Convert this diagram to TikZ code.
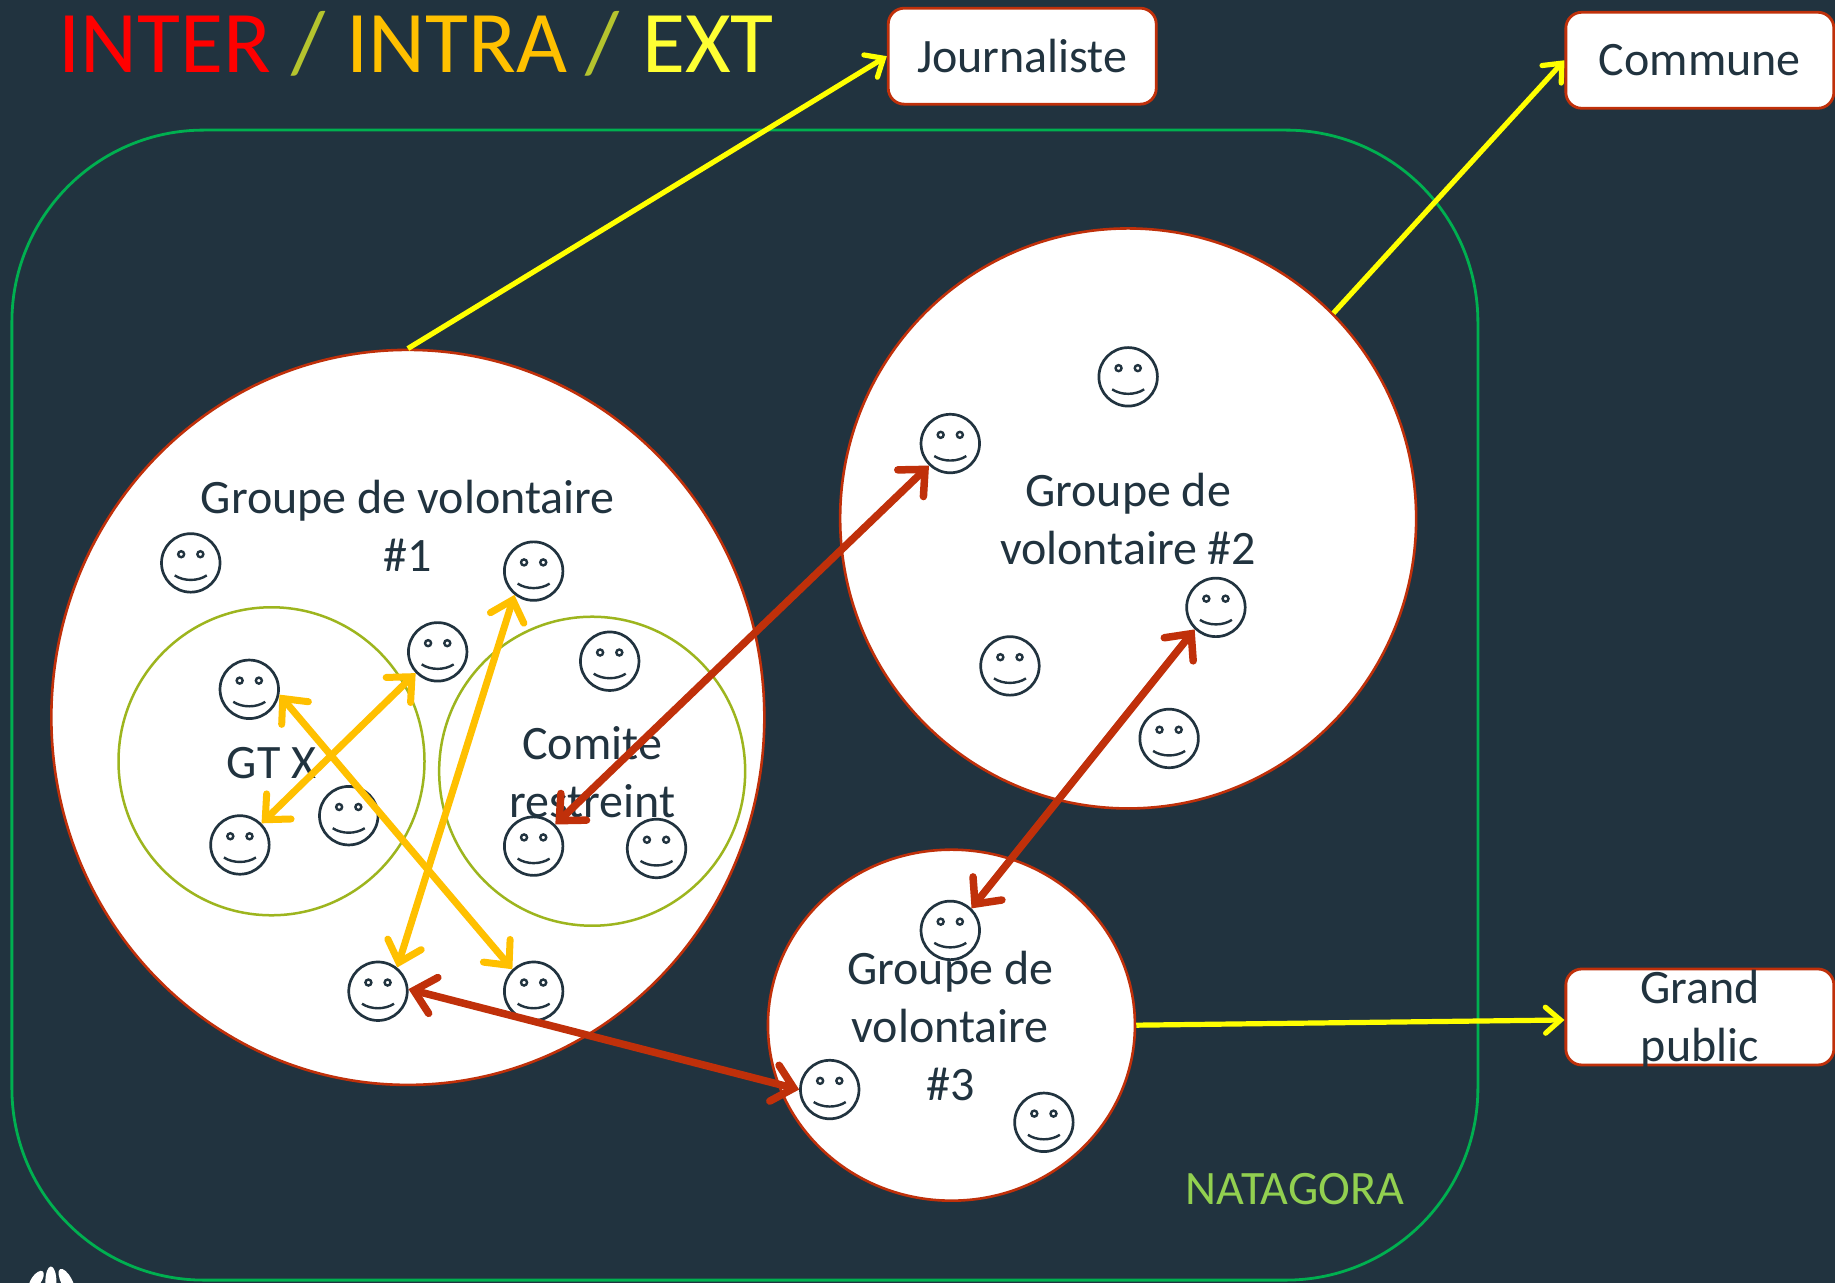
\documentclass[tikz,border=0pt]{standalone}
\usepackage{fontspec}
\setmainfont{Carlito}
\usetikzlibrary{shapes.geometric,arrows.meta}
\definecolor{bg}{HTML}{21333F}
\definecolor{ink}{HTML}{21333F}
\definecolor{redc}{HTML}{C0300A}
\definecolor{orangec}{HTML}{FFC000}
\definecolor{yellowc}{HTML}{FFFF00}
\definecolor{oliv}{HTML}{9DB51E}
\definecolor{slashc}{HTML}{B5C42E}
\definecolor{extc}{HTML}{FFFF33}
\definecolor{greenc}{HTML}{00B050}
\definecolor{natag}{HTML}{92D050}
\tikzset{
  blob/.style={ellipse,draw=redc,fill=white,line width=2.6pt,inner sep=0pt},
  sub/.style={ellipse,draw=oliv,line width=2.5pt,inner sep=0pt},
  lab/.style={text=ink,font=\fontsize{48}{58}\selectfont,align=center,inner sep=0pt},
  ext/.style={rectangle,rounded corners=16pt,draw=redc,fill=white,line width=2.8pt,inner sep=0pt,minimum width=268pt,minimum height=96pt,text=ink,font=\fontsize{48}{58}\selectfont,align=center},
  smiley/.style={circle,draw=ink,line width=2.7pt,minimum size=58.5pt,inner sep=0pt,
    path picture={
      \draw[ink,line width=2.4pt,shift={(path picture bounding box.center)},x=1pt,y=1pt]
        (-9.6,8.7) circle (3pt) (9.6,8.7) circle (3pt)
        (-16,-12.5) .. controls (-7,-18.5) and (7,-18.5) .. (16,-12.5);
    }},
  oyarrow/.style={draw=yellowc,line width=5.2pt,-{Straight Barb[length=15pt,width=26pt,line cap=round]}},
  oarrow/.style={draw=orangec,line width=7pt,{Straight Barb[length=19pt,width=35pt,line cap=round]}-{Straight Barb[length=19pt,width=35pt,line cap=round]}},
  rarrow/.style={draw=redc,line width=7.5pt,{Straight Barb[length=20pt,width=37pt,line cap=round]}-{Straight Barb[length=20pt,width=37pt,line cap=round]}},
  titlep/.style={inner sep=0pt,anchor=base west,font=\fontsize{88}{88}\selectfont}
}
\begin{document}
\begin{tikzpicture}[x=1.17028pt,y=-1.17028pt]
\useasboundingbox (0,0) rectangle (1568,1096.3);
\fill[bg] (0,0) rectangle (1568,1096.3);
% logo
\begin{scope}
\clip (0,1070) rectangle (100,1096.3);
\fill[white,rotate around={-35:(31,1094)}] (31,1094) ellipse (5pt and 11pt);
\fill[white] (43.5,1095) ellipse (5.5pt and 15pt);
\fill[white,rotate around={28:(57,1095)}] (57,1095) ellipse (5.5pt and 14pt);
\end{scope}
% natagora
\node[rectangle,rounded corners=192pt,draw=greenc,line width=2.8pt,minimum width=1466pt,minimum height=1150pt,inner sep=0pt] (nat) at (636.5,602.5) {};
\node[text=natag,inner sep=0pt,font=\fontsize{48}{48}\selectfont] (natlab) at (1106.5,1016) {NATAGORA};
% title
\node[titlep,text=red] (t1) at (50,62) {INTER};
\node[titlep,text=slashc] (t2) at (249,62) {/};
\node[titlep,text=orangec] (t3) at (296,62) {INTRA};
\node[titlep,text=slashc] (t4) at (500,62) {/};
\node[titlep,text=extc] (t5) at (548.5,62) {EXT};
% large groups
\node[blob,minimum width=713pt,minimum height=735pt] (g1) at (348.5,613) {};
\node[blob,minimum width=576pt,minimum height=580pt] (g2) at (964,443) {};
\node[blob,minimum width=367pt,minimum height=351pt] (g3) at (813,876) {};
\node[sub,minimum width=306pt,minimum height=308pt] (gt) at (232,650.5) {};
\node[sub,minimum width=306pt,minimum height=309pt] (co) at (506,659) {};
% external boxes
\node[ext] (jou) at (873.5,48) {Journaliste};
\node[ext] (com) at (1452.5,51.5) {Commune};
\node[ext] (gra) at (1452.5,869) {};
\node[lab] (gral) at (1452.5,871.5) {Grand\\public};
% smileys
\node[smiley] (s1) at (163,481) {};
\node[smiley] (s2) at (456,488) {};
\node[smiley] (s3) at (374,557) {};
\node[smiley] (s4) at (521,565) {};
\node[smiley] (s5) at (213,589) {};
\node[smiley] (s6) at (298,697) {};
\node[smiley] (s7) at (205,722) {};
\node[smiley] (s8) at (456,723) {};
\node[smiley] (s9) at (561,725) {};
\node[smiley] (s10) at (323,847) {};
\node[smiley] (s11) at (456,847) {};
\node[smiley] (s12) at (964,322) {};
\node[smiley] (s13) at (812,379) {};
\node[smiley] (s14) at (1039,519) {};
\node[smiley] (s15) at (863,569) {};
\node[smiley] (s16) at (999,631) {};
\node[smiley] (s17) at (812,795) {};
\node[smiley] (s18) at (709,931) {};
\node[smiley] (s19) at (892,959) {};
% labels
\node[lab] (l1) at (348.5,449) {Groupe de volontaire\\\#1};
\node[lab] (l2) at (964,443.5) {Groupe de\\volontaire \#2};
\node[lab] (l3) at (812,876.5) {Groupe de\\volontaire\\\#3};
\node[lab] (l4) at (232,652) {GT X};
\node[lab] (l5) at (506,660) {Comite\\restreint};
% connectors
\draw[oyarrow] (g1.north) -- (jou.west);
\draw[oyarrow] (g2.45) -- (com.west);
\draw[oyarrow] (g3.east) -- ([yshift=-3pt]gra.west);
\draw[oarrow] (s5.-10) -- (s11.134);
\draw[oarrow] (s3.224) -- (s7.45);
\draw[oarrow] (s2.231) -- (s10.51);
\draw[rarrow] (s13.226) -- (s8.45);
\draw[rarrow] (s14.226) -- (s17.46);
\draw[rarrow] (s10.4) -- (s18.180);
\end{tikzpicture}
\end{document}
